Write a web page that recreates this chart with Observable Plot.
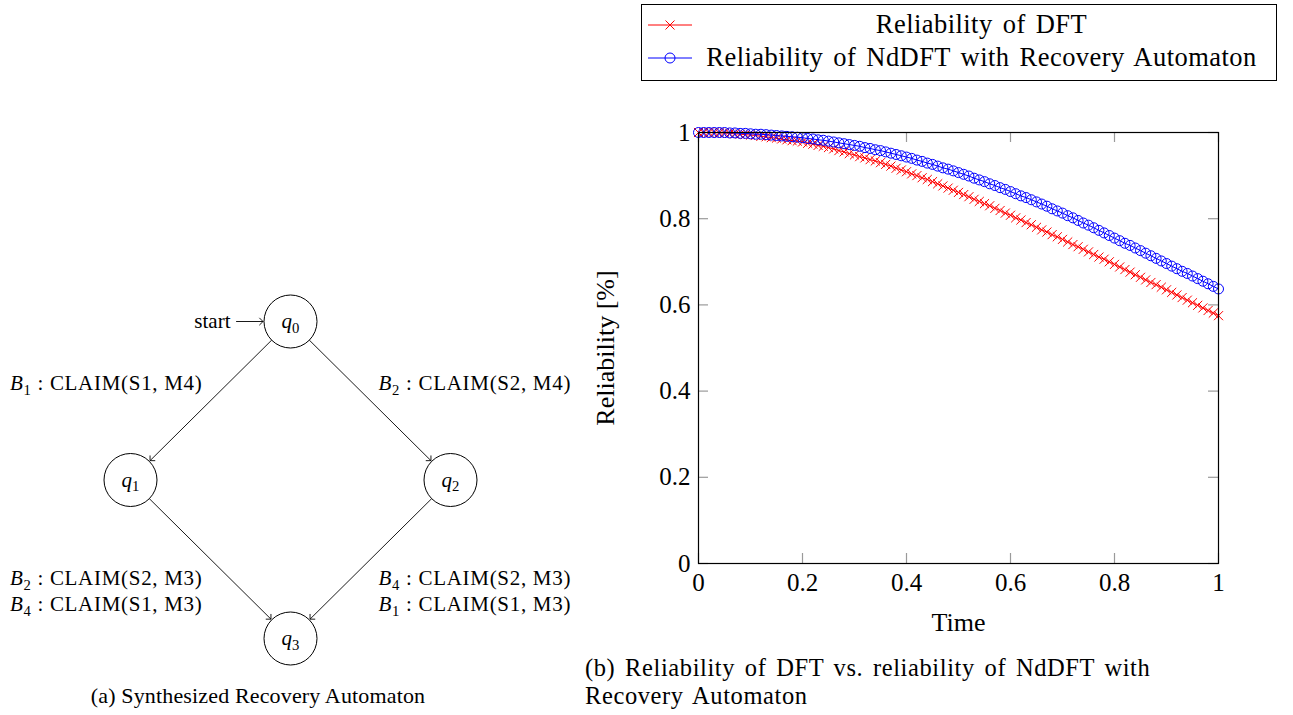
<!DOCTYPE html>
<html>
<head>
<meta charset="utf-8">
<script src="https://cdn.jsdelivr.net/npm/d3@7"></script>
<script src="https://cdn.jsdelivr.net/npm/@observablehq/plot@0.6"></script>
<style>
html,body{margin:0;padding:0;background:#fff;}
body{width:1293px;height:715px;position:relative;overflow:hidden;font-family:"Liberation Serif",serif;color:#000;}
.abs{position:absolute;}
#legend{left:641px;top:4px;width:634px;height:72px;padding-top:3px;border:1px solid #000;box-sizing:content-box;}
.lrow{display:flex;align-items:center;height:33px;}
.lrow svg{flex:none;margin-left:6px;}
.ltext{flex:1;text-align:center;font-size:26.5px;letter-spacing:0.45px;word-spacing:3px;padding-right:5px;white-space:nowrap;}
#capA{left:0;top:683px;width:516px;text-align:center;font-size:22px;line-height:26px;letter-spacing:0.15px;}
#capB{left:585px;top:654px;font-size:24.5px;line-height:28px;letter-spacing:0.6px;word-spacing:3px;white-space:nowrap;}
</style>
</head>
<body>
<div id="auto" class="abs" style="left:0;top:280px"></div>
<div id="chart" class="abs" style="left:585px;top:100px"></div>
<div id="legend" class="abs"></div>
<div id="capA" class="abs">(a) Synthesized Recovery Automaton</div>
<div id="capB" class="abs">(b) Reliability of DFT vs. reliability of NdDFT with<br>Recovery Automaton</div>
<script>
// ---------- chart data ----------
const time = [0,0.01,0.02,0.03,0.04,0.05,0.06,0.07,0.08,0.09,0.1,0.11,0.12,0.13,0.14,0.15,0.16,0.17,0.18,0.19,0.2,0.21,0.22,0.23,0.24,0.25,0.26,0.27,0.28,0.29,0.3,0.31,0.32,0.33,0.34,0.35,0.36,0.37,0.38,0.39,0.4,0.41,0.42,0.43,0.44,0.45,0.46,0.47,0.48,0.49,0.5,0.51,0.52,0.53,0.54,0.55,0.56,0.57,0.58,0.59,0.6,0.61,0.62,0.63,0.64,0.65,0.66,0.67,0.68,0.69,0.7,0.71,0.72,0.73,0.74,0.75,0.76,0.77,0.78,0.79,0.8,0.81,0.82,0.83,0.84,0.85,0.86,0.87,0.88,0.89,0.9,0.91,0.92,0.93,0.94,0.95,0.96,0.97,0.98,0.99,1];
const reliabilityDFT = [1.000,1.000,1.000,1.000,0.999,0.999,0.998,0.997,0.996,0.995,0.994,0.993,0.991,0.990,0.988,0.987,0.985,0.983,0.981,0.980,0.978,0.975,0.973,0.970,0.968,0.965,0.962,0.958,0.955,0.951,0.948,0.944,0.941,0.937,0.934,0.930,0.926,0.922,0.917,0.913,0.909,0.904,0.900,0.895,0.891,0.886,0.881,0.876,0.871,0.866,0.861,0.856,0.851,0.845,0.840,0.835,0.830,0.824,0.819,0.813,0.808,0.802,0.797,0.791,0.786,0.780,0.774,0.769,0.763,0.758,0.752,0.746,0.740,0.735,0.729,0.723,0.717,0.711,0.706,0.700,0.694,0.688,0.682,0.676,0.670,0.664,0.658,0.652,0.647,0.641,0.635,0.629,0.623,0.617,0.611,0.605,0.599,0.593,0.587,0.581,0.575];
const reliabilityNdDFT = [1.000,1.000,1.000,1.000,1.000,1.000,0.999,0.999,0.998,0.998,0.997,0.996,0.996,0.995,0.994,0.993,0.992,0.991,0.990,0.989,0.988,0.986,0.985,0.983,0.982,0.980,0.978,0.976,0.974,0.972,0.970,0.968,0.965,0.963,0.960,0.958,0.955,0.952,0.949,0.946,0.943,0.940,0.936,0.933,0.929,0.926,0.922,0.918,0.915,0.911,0.907,0.903,0.899,0.894,0.890,0.886,0.881,0.877,0.872,0.868,0.863,0.858,0.853,0.849,0.844,0.839,0.834,0.829,0.823,0.818,0.813,0.807,0.802,0.796,0.790,0.785,0.779,0.773,0.767,0.761,0.755,0.749,0.743,0.738,0.732,0.726,0.720,0.714,0.708,0.702,0.696,0.690,0.684,0.678,0.673,0.667,0.661,0.655,0.649,0.643,0.637];
const seriesNames = ["Reliability of DFT", "Reliability of NdDFT with Recovery Automaton"];
const xTicks = [0, 0.2, 0.4, 0.6, 0.8, 1];
const yTicks = [0, 0.2, 0.4, 0.6, 0.8, 1];
const xLabel = "Time";
const yLabel = "Reliability [%]";

// ---------- automaton data ----------
const states = [
  {id: "q0", label: "q₀", col: 0, row: 0},
  {id: "q1", label: "q₁", col: -1, row: 1},
  {id: "q2", label: "q₂", col: 1, row: 1},
  {id: "q3", label: "q₃", col: 0, row: 2}
];
const initialMarker = {id: "start", label: "start", col: -0.35, row: 0};
const transitions = [
  {from: "q0", to: "q1", lines: ["B₁ : CLAIM(S1, M4)"]},
  {from: "q0", to: "q2", lines: ["B₂ : CLAIM(S2, M4)"]},
  {from: "q1", to: "q3", lines: ["B₂ : CLAIM(S2, M3)", "B₄ : CLAIM(S1, M3)"]},
  {from: "q2", to: "q3", lines: ["B₄ : CLAIM(S2, M3)", "B₁ : CLAIM(S1, M3)"]}
];

// ---------- chart ----------
const RED = "#ff0000", BLUE = "#0000ff";
const data = time.map((t, i) => ({t, dft: reliabilityDFT[i], nd: reliabilityNdDFT[i]}));
const W = 700, H = 545, ML = 113, MR = 67, MT = 32, MB = 82;
const FW = W - ML - MR, FH = H - MT - MB;
const fmt = d3.format("~g");
const serif = '"Liberation Serif", serif';
const TICK = "#9a9a9a";

const chart = Plot.plot({
  width: W, height: H,
  marginLeft: ML, marginRight: MR, marginTop: MT, marginBottom: MB,
  style: {fontFamily: serif, fontSize: "25px", background: "transparent", overflow: "visible", color: "#000"},
  x: {domain: [0, 1]},
  y: {domain: [0, 1]},
  marks: [
    Plot.tickX(xTicks, {x: d => d, stroke: TICK, strokeWidth: 1.2, insetTop: FH - 10}),
    Plot.tickX(xTicks, {x: d => d, stroke: TICK, strokeWidth: 1.2, insetBottom: FH - 10}),
    Plot.tickY(yTicks, {y: d => d, stroke: TICK, strokeWidth: 1.2, insetRight: FW - 10}),
    Plot.tickY(yTicks, {y: d => d, stroke: TICK, strokeWidth: 1.2, insetLeft: FW - 10}),
    Plot.axisX(xTicks, {tickSize: 0, tickPadding: 10, tickFormat: fmt, fontSize: 25, label: null}),
    Plot.axisY(yTicks, {tickSize: 0, tickPadding: 8, tickFormat: fmt, fontSize: 25, label: null}),
    Plot.line(data, {x: "t", y: "dft", stroke: RED, strokeWidth: 1}),
    Plot.dot(data, {x: "t", y: "dft", symbol: "times", stroke: RED, r: 4.2, strokeWidth: 1}),
    Plot.line(data, {x: "t", y: "nd", stroke: BLUE, strokeWidth: 1}),
    Plot.dot(data, {x: "t", y: "nd", symbol: "circle", stroke: BLUE, fill: "none", r: 5, strokeWidth: 1}),
    Plot.frame({stroke: "#000", strokeWidth: 1.2}),
    Plot.text([xLabel], {frameAnchor: "bottom", lineAnchor: "middle", dy: 59, fontSize: 26}),
    Plot.text([yLabel], {frameAnchor: "left", textAnchor: "middle", lineAnchor: "middle", rotate: -90, dx: -93, fontSize: 26})
  ]
});
document.getElementById("chart").append(chart);

// ---------- legend ----------
const legend = document.getElementById("legend");
const legendSpecs = [
  {name: seriesNames[0], color: RED, marker: '<path d="M-4.5,-4.5L4.5,4.5M-4.5,4.5L4.5,-4.5" fill="none"/>'},
  {name: seriesNames[1], color: BLUE, marker: '<circle r="5" fill="none"/>'}
];
legendSpecs.forEach(s => {
  const row = document.createElement("div");
  row.className = "lrow";
  row.innerHTML = `<svg width="44" height="20" viewBox="0 0 44 20"><g stroke="${s.color}" stroke-width="1"><line x1="0" x2="44" y1="10" y2="10"/><g transform="translate(22,10)">${s.marker}</g></g></svg><div class="ltext">${s.name}</div>`;
  legend.append(row);
});

// ---------- automaton ----------
const pos = Object.fromEntries([...states, initialMarker].map(s => [s.id, s]));
const FS = 21;
const NODE_R = 26.5;
const labelMarks = [];
transitions.forEach(tr => {
  const a = pos[tr.from], b = pos[tr.to];
  const left = (a.col + b.col) < 0;
  const upper = tr.from === "q0";
  tr.lines.forEach((line, i) => {
    const dy = upper ? -17 : 19 + 26 * i;
    labelMarks.push(Plot.text([{a, b, line}], {
      x: d => (d.a.col + d.b.col) / 2,
      y: d => (d.a.row + d.b.row) / 2,
      text: d => d.line,
      textAnchor: left ? "end" : "start",
      dx: left ? -8 : 8,
      dy,
      fontSize: FS
    }));
  });
});

const auto = Plot.plot({
  width: 585, height: 435,
  style: {fontFamily: serif, fontSize: FS + "px", background: "transparent", overflow: "visible", color: "#000"},
  x: {domain: [-1, 1], range: [130, 450], axis: null},
  y: {domain: [0, 2], range: [41, 358], axis: null},
  marks: [
    Plot.arrow(transitions, {
      x1: d => pos[d.from].col, y1: d => pos[d.from].row,
      x2: d => pos[d.to].col, y2: d => pos[d.to].row,
      insetStart: NODE_R, insetEnd: NODE_R + 1, headLength: 8, headAngle: 90, stroke: "#000", strokeWidth: 0.9
    }),
    Plot.arrow([{from: "start", to: "q0"}], {
      x1: d => pos[d.from].col, y1: d => pos[d.from].row,
      x2: d => pos[d.to].col, y2: d => pos[d.to].row,
      insetStart: 2, insetEnd: NODE_R + 1, headLength: 8, headAngle: 90, stroke: "#000", strokeWidth: 0.9
    }),
    Plot.dot(states, {x: "col", y: "row", r: NODE_R, fill: "#fff", stroke: "#000", strokeWidth: 1}),
    Plot.text(states, {x: "col", y: "row", text: "label", fontSize: FS}),
    Plot.text([initialMarker], {x: "col", y: "row", text: "label", textAnchor: "end", dx: -4, fontSize: FS}),
    ...labelMarks
  ]
});
document.getElementById("auto").append(auto);

// italic letter + subscript digit, like the math typesetting of the source
const SUB = "₀₁₂₃₄₅₆₇₈₉";
const NS = "http://www.w3.org/2000/svg";
auto.querySelectorAll("text").forEach(t => {
  const m = t.textContent.match(/^([A-Za-z])([₀-₉])(.*)$/u);
  if (!m) return;
  const [, letter, sub, rest] = m;
  t.textContent = "";
  const isLabel = rest.length > 0;
  if (isLabel) t.setAttribute("letter-spacing", "0.7px");
  const a = document.createElementNS(NS, "tspan");
  a.textContent = letter;
  a.setAttribute("font-style", "italic");
  const b = document.createElementNS(NS, "tspan");
  b.textContent = String(SUB.indexOf(sub));
  b.setAttribute("font-size", (FS * 0.7) + "px");
  b.setAttribute("dy", FS * 0.22);
  t.append(a, b);
  if (isLabel) {
    const c = document.createElementNS(NS, "tspan");
    c.textContent = rest;
    c.setAttribute("dy", -FS * 0.22);
    c.setAttribute("style", "white-space:pre");
    t.append(c);
  }
});
</script>
</body>
</html>
